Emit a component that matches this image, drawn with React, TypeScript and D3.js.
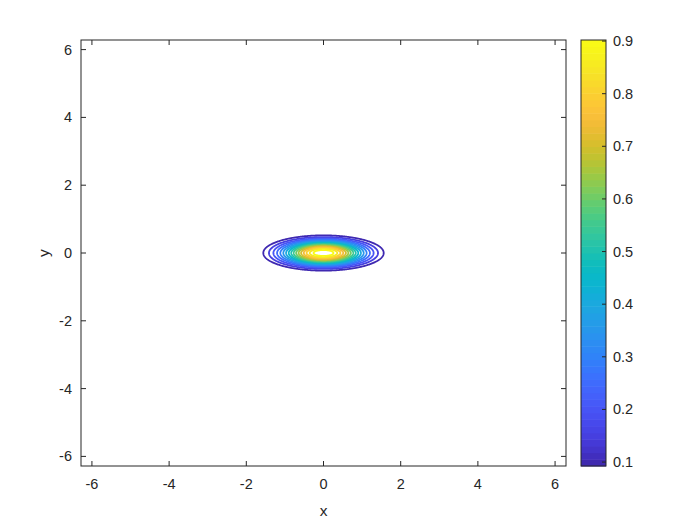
import React from "react";
import * as d3 from "d3";

// contour levels drawn (0.1 .. 0.9)
const levels = [0.1, 0.15, 0.2, 0.25, 0.3, 0.35, 0.4, 0.45, 0.5, 0.55, 0.6, 0.65, 0.7, 0.75, 0.8, 0.85, 0.9];
// surface: peak * exp(-(x^2 + (yStretch*y)^2) / spread)
const peak = 0.958;
const spread = 1.077;
const yStretch = 3;

const axisTicks = [-6, -4, -2, 0, 2, 4, 6];
const colorTicks = [0.1, 0.2, 0.3, 0.4, 0.5, 0.6, 0.7, 0.8, 0.9];
const colorLimits = [0.0925, 0.902];

// parula anchors
const parula = [
  [0.2422, 0.1504, 0.6603], [0.2706, 0.2147, 0.8364], [0.2803, 0.2782, 0.9221],
  [0.2795, 0.3447, 0.9717], [0.2602, 0.4123, 0.9952], [0.1963, 0.4847, 0.9892],
  [0.1764, 0.5499, 0.952], [0.146, 0.6091, 0.9079], [0.1113, 0.6635, 0.8763],
  [0.0297, 0.7082, 0.8163], [0.0433, 0.7411, 0.7394], [0.1717, 0.767, 0.6554],
  [0.247, 0.7918, 0.5567], [0.3909, 0.8029, 0.4354], [0.5616, 0.7942, 0.3045],
  [0.7242, 0.7698, 0.191], [0.8634, 0.7406, 0.1596], [0.9728, 0.7298, 0.2394],
  [0.9952, 0.7893, 0.2028], [0.9676, 0.8639, 0.1643], [0.9628, 0.9373, 0.1265],
  [0.9769, 0.9839, 0.0805],
].map((c) => d3.rgb(c[0] * 255, c[1] * 255, c[2] * 255).toString());
const parulaInterp = d3.interpolateRgbBasis(parula);

const W = 700;
const H = 525;
const ax = { left: 81, right: 566, top: 40, bottom: 466 };
const cb = { left: 581, right: 606 };
const textColor = "#262626";
const font = "'Liberation Sans', Arial, Helvetica, sans-serif";

const App = () => {
  const lim = 2 * Math.PI;
  const x = d3.scaleLinear().domain([-lim, lim]).range([ax.left, ax.right]);
  const y = d3.scaleLinear().domain([-lim, lim]).range([ax.bottom, ax.top]);
  const cScale = d3.scaleLinear().domain(colorLimits).range([ax.bottom, ax.top]);
  const color = (v: number) =>
    parulaInterp(Math.max(0, Math.min(1, (v - colorLimits[0]) / (colorLimits[1] - colorLimits[0]))));

  // grid sampling
  const n = 801;
  const h = (2 * lim) / (n - 1);
  const values = new Array(n * n);
  for (let j = 0; j < n; j++) {
    const yy = -lim + j * h;
    for (let i = 0; i < n; i++) {
      const xx = -lim + i * h;
      values[j * n + i] = peak * Math.exp(-(xx * xx + yStretch * yStretch * yy * yy) / spread);
    }
  }
  const contours = d3.contours().size([n, n]).thresholds(levels)(values);
  const proj = d3.geoTransform({
    point(px: number, py: number) {
      this.stream.point(x(-lim + (px - 0.5) * h), y(-lim + (py - 0.5) * h));
    },
  });
  const path = d3.geoPath(proj);

  const tickLen = 5;
  const nBands = 64;
  const bandH = (ax.bottom - ax.top) / nBands;

  return (
    <svg width={W} height={H} style={{ position: "absolute", left: 0, top: 0, background: "#fff" }}>
      <rect x={0} y={0} width={W} height={H} fill="#fff" />
      <g>
        {contours.map((c, k) => (
          <path key={k} d={path(c as any) || ""} fill="none" stroke={color(c.value)} strokeWidth={1.8} strokeLinejoin="round" />
        ))}
      </g>
      {/* axes box and ticks */}
      <g stroke={textColor} strokeWidth={1} fill="none">
        <rect x={ax.left} y={ax.top} width={ax.right - ax.left} height={ax.bottom - ax.top} />
        {axisTicks.map((t) => (
          <g key={"xt" + t}>
            <line x1={x(t)} x2={x(t)} y1={ax.bottom} y2={ax.bottom - tickLen} />
            <line x1={x(t)} x2={x(t)} y1={ax.top} y2={ax.top + tickLen} />
            <line x1={ax.left} x2={ax.left + tickLen} y1={y(t)} y2={y(t)} />
            <line x1={ax.right} x2={ax.right - tickLen} y1={y(t)} y2={y(t)} />
          </g>
        ))}
      </g>
      <g fill={textColor} fontFamily={font} fontSize={14.5}>
        {axisTicks.map((t) => (
          <text key={"xl" + t} x={x(t)} y={ax.bottom + 23} textAnchor="middle">
            {t}
          </text>
        ))}
        {axisTicks.map((t) => (
          <text key={"yl" + t} x={ax.left - 9} y={y(t) + 5} textAnchor="end">
            {t}
          </text>
        ))}
      </g>
      <text x={(ax.left + ax.right) / 2} y={516} textAnchor="middle" fontFamily={font} fontSize={15.5} fill={textColor}>
        x
      </text>
      <text
        transform={`translate(49,${(ax.top + ax.bottom) / 2}) rotate(-90)`}
        textAnchor="middle"
        fontFamily={font}
        fontSize={15.5}
        fill={textColor}
      >
        y
      </text>
      {/* colorbar */}
      <g>
        {d3.range(nBands).map((i) => (
          <rect
            key={"b" + i}
            x={cb.left}
            y={ax.bottom - (i + 1) * bandH}
            width={cb.right - cb.left}
            height={bandH + 0.5}
            fill={parulaInterp((i + 0.5) / nBands)}
          />
        ))}
        <rect x={cb.left} y={ax.top} width={cb.right - cb.left} height={ax.bottom - ax.top} fill="none" stroke={textColor} strokeWidth={1} />
        {colorTicks.map((t) => (
          <line key={"ct" + t} x1={cb.right} x2={cb.right - 4} y1={cScale(t)} y2={cScale(t)} stroke={textColor} />
        ))}
        {colorTicks.map((t) => (
          <text key={"cl" + t} x={cb.right + 7} y={cScale(t) + 5} fontFamily={font} fontSize={14.5} fill={textColor}>
            {t.toFixed(1)}
          </text>
        ))}
      </g>
    </svg>
  );
};

export default App;
